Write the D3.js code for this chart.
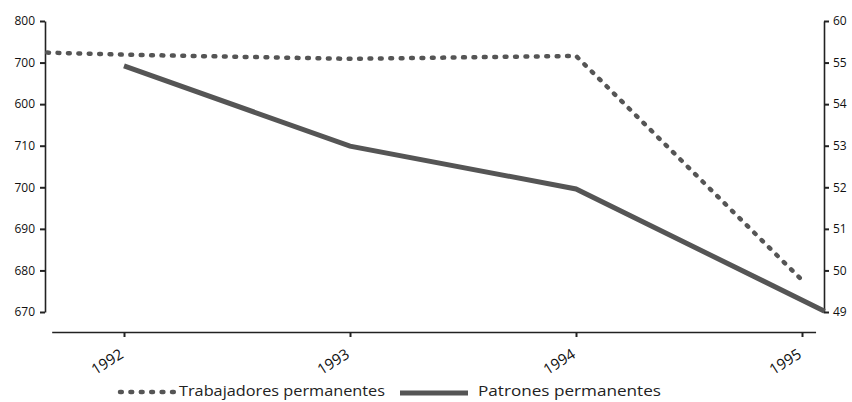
<!DOCTYPE html>
<html>
<head>
<meta charset="utf-8">
<script src="https://cdn.jsdelivr.net/npm/d3@7"></script>
<style>
  body { margin: 0; background: #fff; }
  svg { display: block; }
  .tick text { font-family: "Open Sans", sans-serif; font-size: 12px; font-weight: 500; fill: #111; }
  .legend text { font-family: "Open Sans", sans-serif; font-size: 15px; fill: #222; }
</style>
</head>
<body>
<svg id="chart" width="852" height="402"></svg>
<script>
(function() {
  // Years on the x axis
  const years = [1992, 1993, 1994, 1995];

  // Left axis: tick positions and the labels printed on them (as in the source)
  const leftTicks = [670, 680, 690, 700, 710, 720, 730, 740];
  const leftLabels = ["670", "680", "690", "700", "710", "600", "700", "800"];

  // Right axis
  const rightTicks = [49, 50, 51, 52, 53, 54, 55, 56];
  const rightLabels = ["49", "50", "51", "52", "53", "54", "55", "60"];

  // Trabajadores permanentes (dotted, left axis)
  const trabYears = [1991.66, 1992, 1993, 1994, 1994.99];
  const trabValues = [732.4, 731.9, 730.9, 731.6, 678.2];

  // Patrones permanentes (solid, right axis)
  const patYears = [1992, 1993, 1994, 1995.1];
  const patValues = [54.92, 52.99, 51.96, 49.02];

  const svg = d3.select("#chart");
  const axisColor = "#222";
  const lineColor = "#555";

  const x = d3.scaleLinear().domain([1992, 1995]).range([124, 802]);
  const yLeft = d3.scaleLinear().domain([670, 740]).range([312, 21]);
  const yRight = d3.scaleLinear().domain([49, 56]).range([312, 21]);

  // x axis (domain line runs a bit past first/last year)
  const xAxisScale = d3.scaleLinear()
    .domain([1991.68, 1995.06])
    .range([x(1991.68), x(1995.06)]);
  const gx = svg.append("g")
    .attr("transform", "translate(0,332)")
    .call(d3.axisBottom(xAxisScale).tickValues(years).tickFormat(d3.format("d"))
      .tickSizeInner(5).tickSizeOuter(0));
  gx.select(".domain").attr("stroke", axisColor).attr("stroke-width", 1.6);
  gx.selectAll(".tick line").attr("stroke", axisColor).attr("stroke-width", 2);
  gx.selectAll(".tick text")
    .attr("text-anchor", "end")
    .attr("y", 0).attr("dy", 0)
    .attr("transform", "translate(0,25) rotate(-32)")
    .style("font-size", "15px")
    .style("font-weight", 400);

  // left axis
  const gl = svg.append("g")
    .attr("transform", "translate(45,0)")
    .call(d3.axisLeft(yLeft).tickValues(leftTicks)
      .tickFormat((d, i) => leftLabels[i]).tickSizeInner(5).tickSizeOuter(0).tickPadding(5));
  gl.select(".domain").attr("stroke", axisColor).attr("stroke-width", 1.6);
  gl.selectAll(".tick line").attr("stroke", axisColor).attr("stroke-width", 2);

  // right axis
  const gr = svg.append("g")
    .attr("transform", "translate(824,0)")
    .call(d3.axisRight(yRight).tickValues(rightTicks)
      .tickFormat((d, i) => rightLabels[i]).tickSizeInner(5).tickSizeOuter(0).tickPadding(4));
  gr.select(".domain").attr("stroke", axisColor).attr("stroke-width", 1.6);
  gr.selectAll(".tick line").attr("stroke", axisColor).attr("stroke-width", 2);

  // lines
  const trab = trabYears.map((yr, i) => [x(yr), yLeft(trabValues[i])]);
  const pat = patYears.map((yr, i) => [x(yr), yRight(patValues[i])]);

  svg.append("path")
    .attr("d", d3.line()(pat))
    .attr("fill", "none")
    .attr("stroke", lineColor)
    .attr("stroke-width", 5);

  svg.append("path")
    .attr("d", d3.line()(trab))
    .attr("fill", "none")
    .attr("stroke", lineColor)
    .attr("stroke-width", 4.5)
    .attr("stroke-linecap", "round")
    .attr("stroke-dasharray", "1.8 8.6");

  // legend
  const legend = svg.append("g").attr("class", "legend");
  legend.append("line")
    .attr("x1", 120).attr("x2", 176).attr("y1", 392).attr("y2", 392)
    .attr("stroke", lineColor).attr("stroke-width", 4.5)
    .attr("stroke-linecap", "round").attr("stroke-dasharray", "1.8 8.6");
  legend.append("text").attr("x", 179).attr("y", 396)
    .attr("textLength", 206).attr("lengthAdjust", "spacingAndGlyphs")
    .text("Trabajadores permanentes");
  legend.append("line")
    .attr("x1", 400).attr("x2", 468).attr("y1", 393).attr("y2", 393)
    .attr("stroke", lineColor).attr("stroke-width", 5);
  legend.append("text").attr("x", 478).attr("y", 396)
    .attr("textLength", 183).attr("lengthAdjust", "spacingAndGlyphs")
    .text("Patrones permanentes");
})();
</script>
</body>
</html>
